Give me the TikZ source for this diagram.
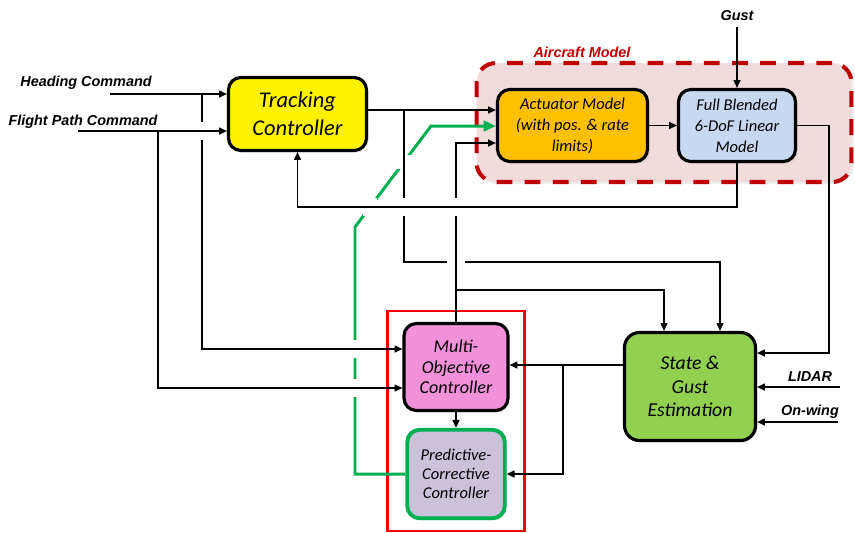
\documentclass[tikz,border=0pt]{standalone}
\usepackage{fontspec}
\newfontfamily\boxfont{Carlito}
\newfontfamily\lblfont{Liberation Sans}
\usepackage{tikz}
\usetikzlibrary{arrows.meta, positioning, fit, backgrounds, calc, shadows}
\pgfdeclarelayer{background}
\pgfsetlayers{background,main}

\definecolor{actorange}{HTML}{FFC000}
\definecolor{fbmblue}{HTML}{C6D9F1}
\definecolor{mopink}{HTML}{F290DA}
\definecolor{pcclav}{HTML}{CCC1DA}
\definecolor{sgegreen}{HTML}{92D050}
\definecolor{acred}{HTML}{C00000}
\definecolor{acfill}{HTML}{F2DCDB}
\definecolor{grn}{HTML}{00B050}

\begin{document}
\begin{tikzpicture}[x=0.02cm, y=-0.02cm,
  every node/.style={align=center},
  blk/.style={draw=black, line width=1.8pt, rounded corners=7pt, inner sep=1pt,
              drop shadow={opacity=0.18, shadow xshift=1.2pt, shadow yshift=-1.2pt}},
  trkbox/.style={blk, fill=yellow, minimum width=2.76cm, minimum height=1.46cm,
                 font=\boxfont\itshape\fontsize{12.8}{15.7}\selectfont},
  actbox/.style={blk, fill=actorange, minimum width=3.0cm, minimum height=1.44cm,
                 font=\boxfont\itshape\fontsize{9.4}{12}\selectfont},
  fbmbox/.style={blk, fill=fbmblue, minimum width=2.34cm, minimum height=1.44cm,
                 font=\boxfont\itshape\fontsize{9.4}{12}\selectfont},
  mobox/.style={blk, fill=mopink, minimum width=2.08cm, minimum height=1.74cm,
                font=\boxfont\itshape\fontsize{10.3}{11.6}\selectfont},
  pccbox/.style={blk, draw=grn, line width=2.2pt, fill=pcclav, minimum width=1.95cm,
                 minimum height=1.77cm, font=\boxfont\itshape\fontsize{9.4}{10.9}\selectfont},
  sgebox/.style={blk, fill=sgegreen, minimum width=2.62cm, minimum height=2.16cm,
                 rounded corners=8.5pt, font=\boxfont\itshape\fontsize{11.2}{13.4}\selectfont},
  acbox/.style={draw=acred, dash pattern=on 9pt off 7pt, line width=2.3pt, fill=acfill,
                rounded corners=11pt, minimum width=7.5cm, minimum height=2.38cm,
                drop shadow={opacity=0.15, shadow xshift=1.2pt, shadow yshift=-1.2pt}},
  redbox/.style={draw=red, line width=1.4pt, inner xsep=0.3cm, inner ysep=0.22cm},
  lbl/.style={font=\lblfont\bfseries\itshape\fontsize{8.2}{10}\selectfont},
  line/.style={line width=0.8pt},
  arr/.style={line, -{Triangle[length=4.5pt, width=4pt]}},
  grnarr/.style={draw=grn, line width=1.7pt, -{Triangle[length=7pt, width=6pt]}},
  bridge/.style={line, preaction={draw=white, line width=10pt}}
]
  \useasboundingbox (0,0) rectangle (855,532);

  % --- Aircraft model frame ---
  \begin{pgfonlayer}{background}
    \node[acbox] (acm) at (664,122.5) {};
  \end{pgfonlayer}
  \node[lbl, text=acred] (aclbl) at (582,52) {Aircraft Model};

  % --- Blocks ---
  \node[trkbox] (trk) at (297.5,114) {Tracking\\Controller};
  \node[actbox] (act) at (572.5,125.5) {Actuator Model\\(with pos. \& rate\\limits)};
  \node[fbmbox] (fbm) at (737,125.5) {Full Blended\\6-DoF Linear\\Model};
  \node[mobox]  (mo)  at (456,367) {Multi-\\Objective\\Controller};
  \node[pccbox] (pcc) at (456,474) {Predictive-\\Corrective\\Controller};
  \node[sgebox] (sge) at (690,386.5) {State \&\\Gust\\Estimation};
  \node[redbox, fit=(mo)(pcc)] (ctrl) {};

  % --- External inputs ---
  \node[lbl] (hdglbl) at (86,83) {Heading Command};
  \node[lbl] (fpclbl) at (83,122) {Flight Path Command};
  \node[lbl] (gust) at (737,16) {Gust};
  \node[lbl] (lidar) at (810,377) {LIDAR};
  \node[lbl] (onw) at (810,412) {On-wing};
  \coordinate (hdg) at (110,94);
  \coordinate (fpc) at (78,131);
  \coordinate (lidarin) at (840,387);
  \coordinate (onwin) at (838,422);

  \draw[arr] (hdg) -- (hdg -| trk.west);
  \draw[arr] (fpc) -- (fpc -| trk.west);
  \draw[arr] (gust.south) -- (fbm.north);
  \draw[arr] (lidarin) -- (lidarin -| sge.east);
  \draw[arr] (onwin) -- (onwin -| sge.east);

  % commands also feed the multi-objective controller
  \coordinate (hdgbr) at (202,94);
  \coordinate (fpcbr) at (158,131);
  \coordinate (moin1) at ([yshift=0.36cm]mo.west);
  \coordinate (moin2) at ([yshift=-0.42cm]mo.west);
  \draw[arr] (hdgbr) |- (moin1);
  \draw[arr] (fpcbr) |- (moin2);

  % --- Tracking controller -> actuator + estimator ---
  \coordinate (trkout) at ([yshift=0.08cm]trk.east);
  \draw[arr] (trkout) -- (trkout -| act.west);
  \coordinate (trkbr) at (trkout -| 404,0);
  \coordinate (trkdn) at (404,262);
  \draw[arr] (trkbr) -- (trkdn) -| ([xshift=0.6cm]sge.north);

  % --- Multi-objective -> actuator + estimator ---
  \coordinate (moup) at ([yshift=-0.35cm]act.west);
  \draw[arr] (mo.north) |- (moup);
  \coordinate (mobr) at (mo.north |- 0,290);
  \draw[arr] (mobr) -| ([xshift=-0.52cm]sge.north);
  \draw[arr] (mo.south) -- (pcc.north);

  % --- Aircraft model outputs ---
  \draw[arr] (act) -- (fbm);
  \coordinate (fbk) at (fbm.south |- 0,207);
  \coordinate (fbkl) at (trk.south |- fbk);
  \draw[arr] (fbm.south) -- (fbk) -- (fbkl) -- (trk.south);
  \draw[arr] (fbm.east) -- ++(32,0) |- ([yshift=0.67cm]sge.east);

  % --- Estimator -> controllers ---
  \coordinate (sgeout) at ([yshift=0.43cm]sge.west);
  \draw[arr] (sgeout) -- (sgeout -| mo.east);
  \coordinate (sgebr) at (sgeout -| 563,0);
  \draw[arr] (sgebr) |- (pcc.east);

  % --- Predictive-corrective path (green) ---
  \coordinate (gbend1) at (355,227);
  \coordinate (gbend2) at (431,126);
  \draw[grnarr] (pcc.west) -| (gbend1) -- (gbend2) -- (gbend2 -| act.west);

  % --- Line crossings (gaps in the lower line) ---
  \coordinate (x1) at (hdgbr |- fpc);
  \coordinate (x2) at (trkbr |- fbk);
  \coordinate (x3) at (mo.north |- fbk);
  \coordinate (x4) at (intersection of gbend1--gbend2 and fbk--fbkl);
  \coordinate (x5) at (gbend1 |- moin1);
  \coordinate (x6) at (gbend1 |- moin2);
  \coordinate (v1) at (mo.north |- trkdn);
  \coordinate (v2) at (intersection of gbend1--gbend2 and trkbr--trkdn);
  \foreach \c in {x1,x2,x3,x4,x5,x6}
    \draw[bridge] ([xshift=-4pt]\c) -- ([xshift=4pt]\c);
  \foreach \c in {v1,v2}
    \draw[bridge] ([yshift=-4pt]\c) -- ([yshift=4pt]\c);

\end{tikzpicture}
\end{document}
